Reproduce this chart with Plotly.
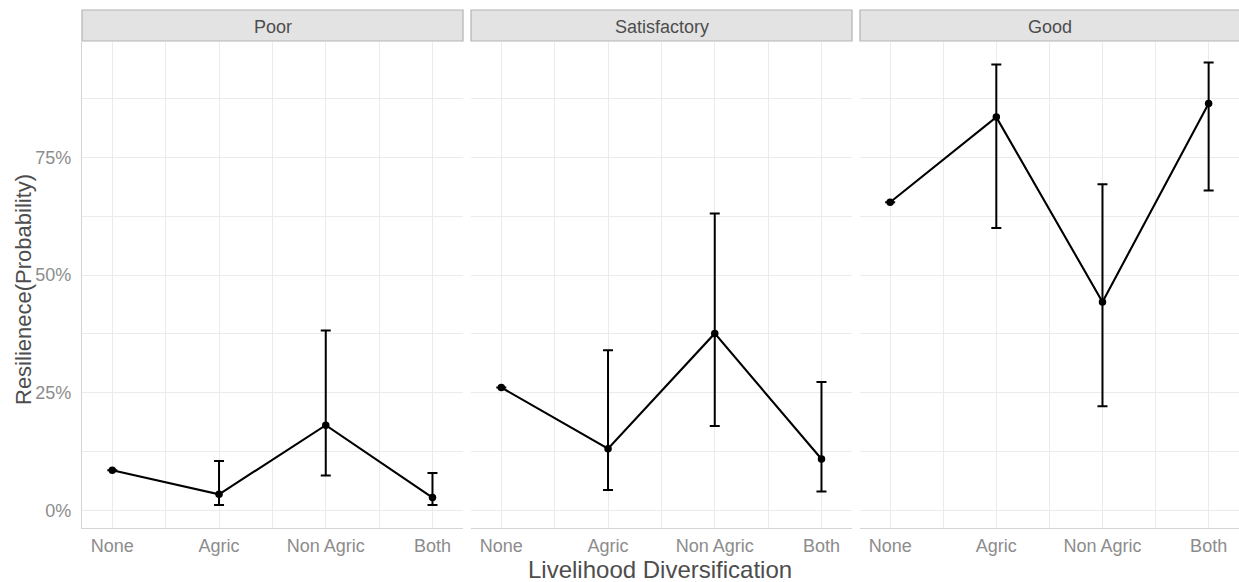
import plotly.graph_objects as go

categories = ["None", "Agric", "Non Agric", "Both"]
panels = ["Poor", "Satisfactory", "Good"]

poor_prob = [0.085, 0.034, 0.181, 0.027]
poor_lo = [0.085, 0.011, 0.074, 0.011]
poor_hi = [0.085, 0.105, 0.382, 0.079]

sat_prob = [0.261, 0.131, 0.376, 0.109]
sat_lo = [0.261, 0.043, 0.179, 0.040]
sat_hi = [0.261, 0.340, 0.631, 0.273]

good_prob = [0.655, 0.836, 0.443, 0.865]
good_lo = [0.655, 0.600, 0.221, 0.680]
good_hi = [0.655, 0.948, 0.693, 0.952]

y_ticks = [0, 0.25, 0.5, 0.75]
y_minor = [0.125, 0.375, 0.625, 0.875]
x_minor = [1.5, 2.5, 3.5]

series = [(poor_prob, poor_lo, poor_hi), (sat_prob, sat_lo, sat_hi), (good_prob, good_lo, good_hi)]

W, H = 1239, 582
ML, MR, MT, MB = 82, 0, 42, 54
PW, PH = W - ML - MR, H - MT - MB
panel_px = [(82, 463), (471, 852), (860, 1241)]
domains = [((a - ML) / PW, min(1.0, (b - ML) / PW)) for a, b in panel_px]

fig = go.Figure()
xpos = [1, 2, 3, 4]
for i, (p, lo, hi) in enumerate(series):
    suffix = "" if i == 0 else str(i + 1)
    fig.add_trace(go.Scatter(
        x=xpos, y=p, mode="lines+markers",
        line=dict(color="black", width=2.1),
        marker=dict(color="black", size=7.5),
        error_y=dict(type="data", symmetric=False,
                     array=[h - v for h, v in zip(hi, p)],
                     arrayminus=[v - l for v, l in zip(p, lo)],
                     color="black", thickness=2, width=5),
        xaxis="x" + suffix, yaxis="y" + suffix, showlegend=False,
        hoverinfo="skip",
    ))

tickfont = dict(family="Liberation Sans, Arial, sans-serif", size=18, color="#8c8c8c")
grid_c = "#ebebeb"
layout = dict(
    width=W, height=H,
    margin=dict(l=ML, r=MR, t=MT, b=MB),
    paper_bgcolor="white", plot_bgcolor="white",
    font=dict(family="Liberation Sans, Arial, sans-serif"),
    showlegend=False,
)
for i in range(3):
    suffix = "" if i == 0 else str(i + 1)
    layout["xaxis" + suffix] = dict(
        domain=list(domains[i]), anchor="y" + suffix,
        range=[0.716, 4.286], tickvals=xpos, ticktext=categories,
        showgrid=True, gridcolor=grid_c, gridwidth=1.1,
        minor=dict(tickvals=x_minor, showgrid=True, gridcolor=grid_c, gridwidth=0.9, ticks=""),
        zeroline=False, showline=True, linecolor="#d4d4d4", linewidth=1.2,
        ticks="outside", ticklen=1, tickcolor="rgba(0,0,0,0)",
        tickfont=tickfont, fixedrange=True,
    )
    layout["yaxis" + suffix] = dict(
        domain=[0, 1], anchor="x" + suffix,
        range=[-0.0377, 0.9957], tickvals=y_ticks, tickformat=".0%",
        showticklabels=(i == 0),
        showgrid=True, gridcolor=grid_c, gridwidth=1.1,
        minor=dict(tickvals=y_minor, showgrid=True, gridcolor=grid_c, gridwidth=0.9, ticks=""),
        zeroline=False, showline=(i == 0), linecolor="#d4d4d4", linewidth=1.2,
        ticks="outside", ticklen=6, tickcolor="rgba(0,0,0,0)",
        tickfont=tickfont, fixedrange=True,
    )
    if i > 0:
        layout["yaxis" + suffix]["matches"] = "y"

shapes = []
annotations = []
for i, name in enumerate(panels):
    x0, x1 = domains[i]
    shapes.append(dict(type="rect", xref="paper", yref="paper",
                       x0=x0, x1=x1 if i < 2 else 1.002,
                       y0=1 + 1 / PH, y1=1 + 32 / PH,
                       fillcolor="#e3e3e3", line=dict(color="#b3b3b3", width=1.2), layer="above"))
    annotations.append(dict(text=name, xref="paper", yref="paper",
                            x=(x0 + x1) / 2, y=1 + 15.5 / PH, xanchor="center", yanchor="middle",
                            showarrow=False,
                            font=dict(family="Liberation Sans, Arial, sans-serif", size=18, color="#4d4d4d")))

annotations.append(dict(text="Livelihood Diversification", xref="paper", yref="paper",
                        x=(660 - ML) / PW, y=-(569 - (H - MB)) / PH, xanchor="center", yanchor="middle",
                        showarrow=False,
                        font=dict(family="Liberation Sans, Arial, sans-serif", size=24, color="#4d4d4d")))
annotations.append(dict(text="Resilienece(Probability)", xref="paper", yref="paper",
                        x=(23 - ML) / PW, y=(H - MB - 290) / PH, xanchor="center", yanchor="middle",
                        textangle=-90, showarrow=False,
                        font=dict(family="Liberation Sans, Arial, sans-serif", size=22, color="#4d4d4d")))
layout["shapes"] = shapes
layout["annotations"] = annotations
fig.update_layout(**layout)
fig.write_html("out.html")
